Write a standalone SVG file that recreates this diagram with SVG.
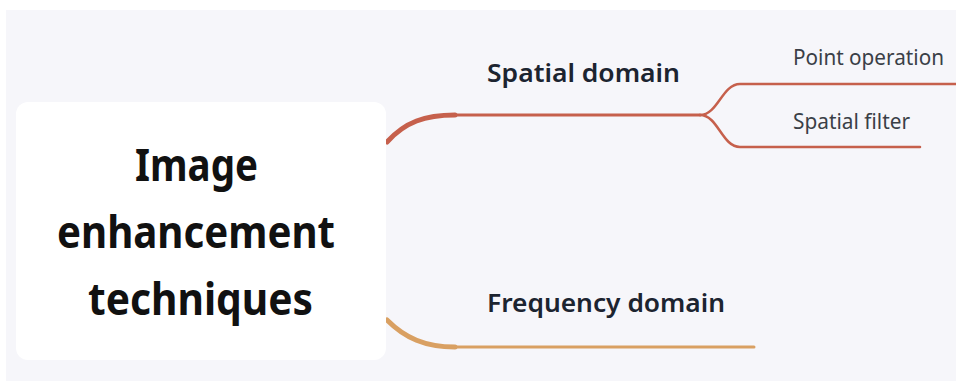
<svg xmlns="http://www.w3.org/2000/svg" width="956" height="381" viewBox="0 0 956 381">
  <style>
    .root-text { font-family: "Noto Sans", "Open Sans", sans-serif; font-weight: 700; font-size: 45px; fill: #111111; }
    .topic { font-family: "Noto Sans", "Open Sans", sans-serif; font-weight: 600; font-size: 26px; fill: #1c2430; }
    .sub { font-family: "Noto Sans", "Open Sans", sans-serif; font-weight: 400; font-size: 22px; fill: #3a3f47; }
    .red { fill: none; stroke: #c6604c; stroke-linecap: round; }
    .gold { fill: none; stroke: #d9a062; stroke-linecap: round; }
  </style>

  <!-- page background -->
  <rect x="0" y="0" width="956" height="381" fill="#ffffff"/>
  <rect x="6" y="10" width="950" height="371" fill="#f6f6fa"/>

  <!-- connectors -->
  <g id="connectors">
    <!-- root to Spatial domain -->
    <path class="red" d="M387,142 C405,122 425,115 455,115" stroke-width="5"/>
    <path class="red" d="M452,115 L700,115" stroke-width="3"/>
    <!-- Spatial domain to children -->
    <path class="red" d="M700,115 C718,115 722,84 740,84 L956,84" stroke-width="2.5"/>
    <path class="red" d="M700,115 C718,115 722,147 740,147 L920,147" stroke-width="2.5"/>
    <!-- root to Frequency domain -->
    <path class="gold" d="M387,320 C405,338 425,347 455,347" stroke-width="5"/>
    <path class="gold" d="M452,347 L754,347" stroke-width="3"/>
  </g>

  <!-- root node -->
  <g id="node-root">
    <rect x="16" y="102" width="370" height="258" rx="12" fill="#ffffff"/>
    <text class="root-text" x="135" y="181" textLength="123" lengthAdjust="spacingAndGlyphs">Image</text>
    <text class="root-text" x="57" y="248" textLength="278" lengthAdjust="spacingAndGlyphs">enhancement</text>
    <text class="root-text" x="88" y="315" textLength="225" lengthAdjust="spacingAndGlyphs">techniques</text>
  </g>

  <g id="node-spatial">
    <text class="topic" x="487" y="82" textLength="193" lengthAdjust="spacingAndGlyphs">Spatial domain</text>
  </g>
  <g id="node-point">
    <text class="sub" x="793" y="65" textLength="151" lengthAdjust="spacingAndGlyphs">Point operation</text>
  </g>
  <g id="node-filter">
    <text class="sub" x="793" y="129" textLength="117" lengthAdjust="spacingAndGlyphs">Spatial filter</text>
  </g>
  <g id="node-frequency">
    <text class="topic" x="487" y="312" textLength="238" lengthAdjust="spacingAndGlyphs">Frequency domain</text>
  </g>
</svg>
